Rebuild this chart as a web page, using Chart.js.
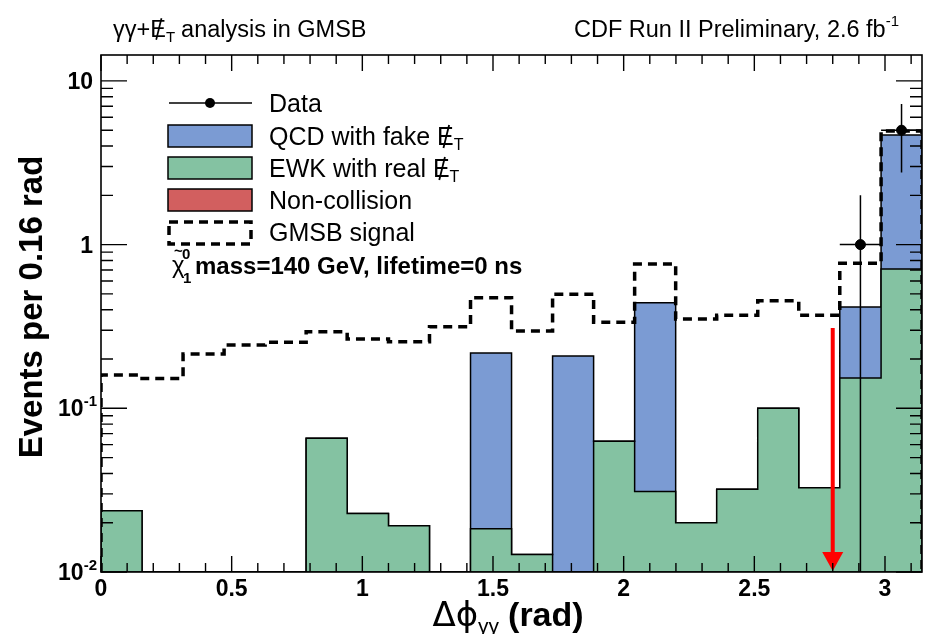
<!DOCTYPE html>
<html><head><meta charset="utf-8">
<script src="https://cdn.jsdelivr.net/npm/chart.js@4/dist/chart.umd.min.js"></script>
<style>html,body{margin:0;padding:0;background:#fff;}canvas{display:block;}</style>
</head><body>
<canvas id="c" width="928" height="634"></canvas>
<script>
// ---------- data ----------
const binEdges = [0, 0.157, 0.314, 0.471, 0.628, 0.785, 0.942, 1.100, 1.257, 1.414, 1.571,
                  1.728, 1.885, 2.042, 2.199, 2.356, 2.513, 2.670, 2.827, 2.985, 3.1416];
const nonCollision = [0,0,0,0,0,0,0,0,0,0,0,0,0,0,0,0,0,0,0,0];
const ewkReal = [0.0237,0,0,0,0,0.0656,0.0228,0.0192,0,0.0184,0.0128,0,0.063,0.031,0.020,0.032,0.100,0.0327,0.153,0.71];
const qcdFake = [0,0,0,0,0,0,0,0,0,0.199,0,0.209,0,0.411,0,0,0,0,0.263,3.96];
const gmsbSignal = [0.160,0.152,0.215,0.244,0.253,0.294,0.265,0.255,0.315,0.474,0.297,0.497,0.335,0.761,0.351,0.370,0.454,0.370,0.770,4.94];
const dataBins = [18, 19];
const dataValues = [1, 5];
const dataLow = [0, 2.76];
const dataHigh = [2.0, 7.24];
const cutValue = 2.8;
const cutArrowTop = 0.31;
const xTickValues = [0, 0.5, 1, 1.5, 2, 2.5, 3];
const xTickLabels = ['0', '0.5', '1', '1.5', '2', '2.5', '3'];
const yTickValues = [0.01, 0.1, 1, 10];
const yTickBase = ['10', '10', '1', '10'];
const yTickExp = ['-2', '-1', '', ''];
const yMin = 0.01, yMax = 14.4;

const BLUE = '#7b9bd3', GREEN = '#84c2a2', RED = '#d25f5f';

// ---------- build step tables ----------
const nBins = binEdges.length - 1;
function stackLevel(...arrs){ return binEdges.slice(0, nBins).map((_, i) => arrs.reduce((s, a) => s + a[i], 0)); }
function stepPoints(vals){
  const pts = [{x: binEdges[0], y: yMin}];
  vals.forEach((v, i) => pts.push({x: binEdges[i], y: v > yMin ? v : yMin}));
  pts.push({x: binEdges[nBins], y: yMin});
  return pts;
}
const lvlNC = stackLevel(nonCollision);
const lvlEWK = stackLevel(nonCollision, ewkReal);
const lvlQCD = stackLevel(nonCollision, ewkReal, qcdFake);

const dataPts = dataBins.map((b, i) => ({x: (binEdges[b] + binEdges[b+1]) / 2, y: dataValues[i]}));
const errPts = [];
dataBins.forEach((b, i) => {
  const xc = (binEdges[b] + binEdges[b+1]) / 2;
  errPts.push({x: xc, y: Math.max(dataLow[i], yMin)}, {x: xc, y: dataHigh[i]}, {x: xc, y: null});
  errPts.push({x: binEdges[b], y: dataValues[i]}, {x: binEdges[b+1], y: dataValues[i]}, {x: xc, y: null});
});

function stepDS(label, pts, fillColor, order){
  return {type: 'line', label, data: pts, stepped: 'before', fill: fillColor ? 'start' : false,
    backgroundColor: fillColor || 'transparent', borderColor: '#000', borderWidth: 1.5,
    pointRadius: 0, tension: 0, order};
}

// ---------- decoration plugin ----------
const FAM = '"Liberation Sans", Arial, sans-serif';
function drawRuns(ctx, x, y, parts){
  let cx = x;
  for (const p of parts){
    ctx.font = p.f;
    const w = ctx.measureText(p.t).width;
    ctx.fillText(p.t, cx, y + (p.dy || 0));
    if (p.slash){
      const fs = parseFloat(p.f.match(/(\d+(\.\d+)?)px/)[1]);
      ctx.save(); ctx.lineWidth = Math.max(1.2, fs/14); ctx.strokeStyle = '#000';
      ctx.beginPath(); ctx.moveTo(cx + w*0.72, y - fs*0.80); ctx.lineTo(cx + w*0.38, y + fs*0.12); ctx.stroke(); ctx.restore();
    }
    cx += w + (p.after || 0);
  }
  return cx;
}
function runsWidth(ctx, parts){ let w = 0; for (const p of parts){ ctx.font = p.f; w += ctx.measureText(p.t).width + (p.after||0); } return w; }

const decor = {
  id: 'decor',
  afterDraw(chart){
    const ctx = chart.ctx, xs = chart.scales.x, ys = chart.scales.y, a = chart.chartArea;
    ctx.save();
    ctx.fillStyle = '#000'; ctx.strokeStyle = '#000';
    // cut arrow
    const ax = xs.getPixelForValue(cutValue), aTop = ys.getPixelForValue(cutArrowTop), aBot = a.bottom;
    ctx.strokeStyle = '#ff0000'; ctx.fillStyle = '#ff0000'; ctx.lineWidth = 4;
    ctx.beginPath(); ctx.moveTo(ax, aTop); ctx.lineTo(ax, aBot - 16); ctx.stroke();
    ctx.beginPath(); ctx.moveTo(ax - 10.5, aBot - 20); ctx.lineTo(ax + 10.5, aBot - 20); ctx.lineTo(ax, aBot - 1); ctx.closePath(); ctx.fill();
    ctx.strokeStyle = '#000'; ctx.fillStyle = '#000';
    // frame
    ctx.lineWidth = 1.6;
    ctx.strokeRect(a.left, a.top, a.right - a.left, a.bottom - a.top);
    // x ticks
    ctx.lineWidth = 1.4;
    ctx.beginPath();
    for (let t = 0; t <= 31; t++){
      const v = t / 10; const px = xs.getPixelForValue(v);
      const major = t % 5 === 0; const L = major ? 16 : 9;
      ctx.moveTo(px, a.bottom); ctx.lineTo(px, a.bottom - L);
      ctx.moveTo(px, a.top); ctx.lineTo(px, a.top + L);
    }
    // y ticks
    for (const dec of yTickValues){
      for (let m = 1; m <= 9; m++){
        const v = dec * m; if (v > yMax) break;
        const py = ys.getPixelForValue(v); const L = m === 1 ? 26 : 12;
        ctx.moveTo(a.left, py); ctx.lineTo(a.left + L, py);
        ctx.moveTo(a.right, py); ctx.lineTo(a.right - L, py);
      }
    }
    ctx.stroke();
    // x tick labels
    ctx.font = 'bold 23px ' + FAM;
    ctx.textAlign = 'center'; ctx.textBaseline = 'alphabetic';
    xTickValues.forEach((v, i) => ctx.fillText(xTickLabels[i], xs.getPixelForValue(v), 596));
    // y tick labels
    ctx.textAlign = 'left';
    yTickValues.forEach((v, i) => {
      const py = ys.getPixelForValue(v) + 8;
      const parts = [{t: yTickBase[i], f: 'bold 23px ' + FAM}];
      if (yTickExp[i]) parts.push({t: yTickExp[i], f: 'bold 15px ' + FAM, dy: -10});
      const w = runsWidth(ctx, parts);
      const right = yTickExp[i] ? 97 : 93;
      drawRuns(ctx, right - w, py, parts);
    });
    // axis titles
    ctx.save();
    ctx.translate(42, 307); ctx.rotate(-Math.PI / 2);
    ctx.font = 'bold 33px ' + FAM; ctx.textAlign = 'center';
    ctx.fillText('Events per 0.16 rad', 0, 0);
    ctx.restore();
    {
      const parts = [
        {t: 'Δϕ', f: '34px "DejaVu Sans", ' + FAM},
        {t: 'γγ', f: '21px ' + FAM, dy: 7, after: 9},
        {t: '(rad)', f: 'bold 34px ' + FAM}
      ];
      const w = runsWidth(ctx, parts);
      drawRuns(ctx, 508 - w / 2, 626, parts);
    }
    // top titles
    const F = '23.5px ' + FAM;
    drawRuns(ctx, 113, 37, [
      {t: 'γγ+', f: F}, {t: 'E', f: F, slash: true},
      {t: 'T', f: '15px ' + FAM, dy: 5, after: 6},
      {t: 'analysis in GMSB', f: F}
    ]);
    drawRuns(ctx, 574, 37, [
      {t: 'CDF Run II Preliminary, 2.6 fb', f: F},
      {t: '-1', f: '15px ' + FAM, dy: -11}
    ]);
    // legend
    const LF = '25px ' + FAM;
    const bx0 = 168, bx1 = 252, tx = 269;
    ctx.lineWidth = 1.5;
    ctx.beginPath(); ctx.moveTo(169, 103); ctx.lineTo(252, 103); ctx.stroke();
    ctx.beginPath(); ctx.arc(210, 103, 5, 0, Math.PI * 2); ctx.fill();
    drawRuns(ctx, tx, 112, [{t: 'Data', f: LF}]);
    const boxes = [[125, BLUE, [{t: 'QCD with fake ', f: LF}, {t: 'E', f: LF, slash: true}, {t: 'T', f: '16px ' + FAM, dy: 5}]],
                   [157, GREEN, [{t: 'EWK with real ', f: LF}, {t: 'E', f: LF, slash: true}, {t: 'T', f: '16px ' + FAM, dy: 5}]],
                   [189, RED, [{t: 'Non-collision', f: LF}]]];
    boxes.forEach(([y0, col, parts]) => {
      ctx.fillStyle = col; ctx.fillRect(bx0, y0, bx1 - bx0, 22);
      ctx.fillStyle = '#000'; ctx.strokeRect(bx0, y0, bx1 - bx0, 22);
      drawRuns(ctx, tx, y0 + 20, parts);
    });
    ctx.save(); ctx.lineWidth = 3.5; ctx.setLineDash([9, 6]);
    ctx.strokeRect(bx0 + 1, 222, bx1 - bx0 - 2, 22); ctx.restore();
    drawRuns(ctx, tx, 241, [{t: 'GMSB signal', f: LF}]);
    // chi line
    ctx.font = '24px ' + FAM;
    ctx.fillText('χ', 172, 273);
    ctx.font = 'bold 15px ' + FAM;
    ctx.fillText('~', 174, 256);
    ctx.fillText('0', 182, 259);
    ctx.fillText('1', 183, 283);
    drawRuns(ctx, 195, 274, [{t: 'mass=140 GeV, lifetime=0 ns', f: 'bold 24px ' + FAM}]);
    ctx.restore();
  }
};

new Chart(document.getElementById('c'), {
  data: {
    datasets: [
      {type: 'line', label: 'Data', data: dataPts, showLine: false, pointRadius: 5, pointBackgroundColor: '#000', pointBorderColor: '#000', order: 0},
      {type: 'line', label: 'Data errors', data: errPts, spanGaps: false, borderColor: '#000', borderWidth: 1.5, pointRadius: 0, fill: false, tension: 0, order: 1},
      Object.assign(stepDS('GMSB signal', stepPoints(gmsbSignal), null, 2), {borderWidth: 3.5, borderDash: [9, 6]}),
      stepDS('Non-collision', stepPoints(lvlNC), RED, 3),
      stepDS('EWK with real MET', stepPoints(lvlEWK), GREEN, 4),
      stepDS('QCD with fake MET', stepPoints(lvlQCD), BLUE, 5)
    ]
  },
  options: {
    responsive: false, animation: false, devicePixelRatio: 1,
    layout: {padding: {left: 101, right: 1, top: 55, bottom: 62}},
    scales: {
      x: {type: 'linear', min: 0, max: binEdges[nBins], display: false},
      y: {type: 'logarithmic', min: yMin, max: yMax, display: false}
    },
    plugins: {legend: {display: false}, tooltip: {enabled: false}}
  },
  plugins: [decor]
});
</script>
</body></html>
